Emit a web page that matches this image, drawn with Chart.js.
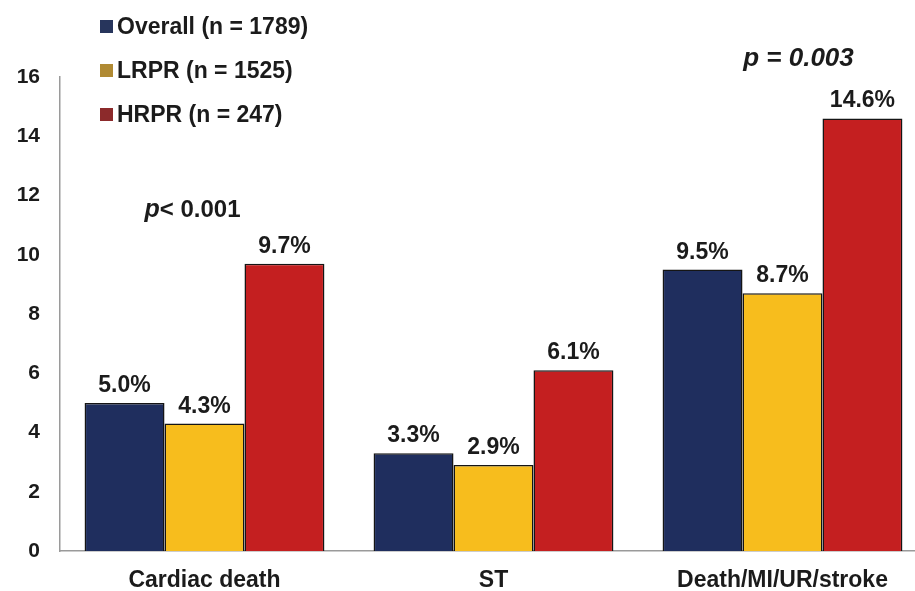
<!DOCTYPE html>
<html>
<head>
<meta charset="utf-8">
<script src="https://cdn.jsdelivr.net/npm/chart.js@4.4.0/dist/chart.umd.min.js"></script>
<style>
html, body {margin: 0; padding: 0; background: #fff; overflow: hidden;}
#wrap {width: 927px; height: 591px; position: relative;}
</style>
</head>
<body>
<div id="wrap"><canvas id="mygraph"></canvas></div>
<script>
// values (%)
const categories = ['Cardiac death', 'ST', 'Death/MI/UR/stroke'];
const overall = [5.0, 3.3, 9.5];
const lrpr = [4.3, 2.9, 8.7];
const hrpr = [9.7, 6.1, 14.6];
const seriesNames = ['Overall (n = 1789)', 'LRPR (n = 1525)', 'HRPR (n = 247)'];
const pLabels = ['p< 0.001', '', 'p = 0.003'];

const barColors = ['#1f2e5e', '#f7bd1d', '#c41f20'];
const legendColors = ['#27355c', '#b08a33', '#8c2a2b'];
const FONT = '"Liberation Sans", Arial, sans-serif';
const INK = '#1b1b1b';

// labels over bars
const valueLabels = {
    id: 'valueLabels',
    afterDatasetsDraw(chart) {
        const c = chart.ctx;
        c.save();
        c.font = 'bold 23px ' + FONT;
        c.fillStyle = INK;
        c.textAlign = 'center';
        c.textBaseline = 'alphabetic';
        chart.data.datasets.forEach((ds, i) => {
            chart.getDatasetMeta(i).data.forEach((bar, j) => {
                c.fillText(ds.data[j].toFixed(1) + '%', bar.x, bar.y - 11);
            });
        });
        c.restore();
    }
}

// legend top left + p values
const extras = {
    id: 'extras',
    afterDraw(chart) {
        const c = chart.ctx;
        c.save();
        c.textBaseline = 'middle';
        c.textAlign = 'left';
        c.font = 'bold 23px ' + FONT;
        const rowsY = [27, 71, 115];
        seriesNames.forEach((name, i) => {
            c.fillStyle = legendColors[i];
            c.fillRect(100, rowsY[i] - 7, 13, 13);
            c.fillStyle = INK;
            c.fillText(name, 117, rowsY[i] + 1);
        });

        const x = chart.scales.x, y = chart.scales.y;
        // p< 0.001 over cardiac death
        let px = x.getPixelForValue(0) - 60, py = y.getPixelForValue(11.5);
        c.font = 'italic bold 25px ' + FONT;
        c.fillStyle = INK;
        c.fillText(pLabels[0].slice(0, 1), px, py);
        const w = c.measureText('p').width;
        c.font = 'bold 24px ' + FONT;
        c.fillText(pLabels[0].slice(1), px + w, py);
        // p = 0.003 over composite
        c.font = 'italic bold 26px ' + FONT;
        c.textAlign = 'center';
        c.fillText(pLabels[2], x.getPixelForValue(2) + 16, y.getPixelForValue(16.6));
        c.restore();
    }
}

const ctx = document.getElementById('mygraph').getContext('2d');
const chart = new Chart(ctx, {
    type: 'bar',
    data: {
        labels: categories,
        datasets: [overall, lrpr, hrpr].map((d, i) => ({
            label: seriesNames[i],
            data: d,
            backgroundColor: barColors[i],
            borderColor: '#151515',
            borderWidth: 1.5,
            borderSkipped: 'bottom',
            barPercentage: 1.0,
            categoryPercentage: 0.83
        }))
    },
    options: {
        responsive: true,
        maintainAspectRatio: false,
        animation: false,
        layout: {padding: {top: 77, left: 16, right: 0, bottom: 0}},
        plugins: {legend: {display: false}, tooltip: {enabled: false}},
        scales: {
            x: {
                afterFit: (s) => { s.height = 40; },
                grid: {display: false, drawTicks: false},
                border: {display: true, color: '#9a9a9a', width: 1.5},
                ticks: {color: INK, padding: 16, font: {family: FONT, size: 23, weight: 'bold'}}
            },
            y: {
                min: 0, max: 16,
                afterFit: (s) => { s.width = 44; },
                grid: {display: false, drawTicks: false},
                border: {display: true, color: '#9a9a9a', width: 1.5},
                ticks: {stepSize: 2, color: INK, padding: 20, font: {family: FONT, size: 21, weight: 'bold'}}
            }
        }
    },
    plugins: [valueLabels, extras]
});
</script>
</body>
</html>
